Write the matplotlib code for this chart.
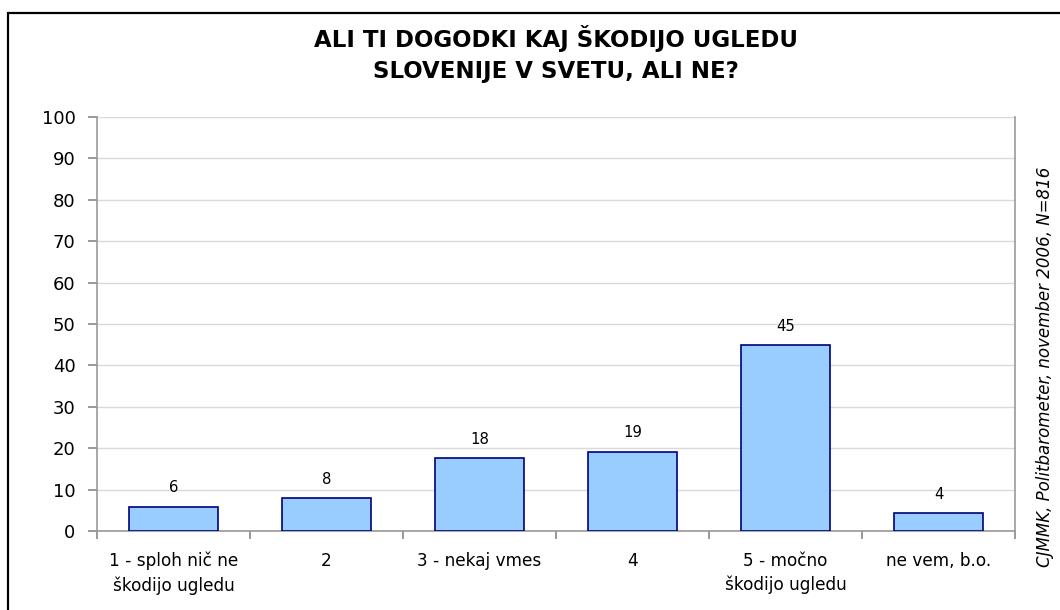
import matplotlib
matplotlib.use("Agg")
import matplotlib.pyplot as plt
from matplotlib.patches import Rectangle

plt.rcParams['font.family'] = ['DejaVu Sans']

categories = ["1 - sploh nič ne\nškodijo ugledu", "2", "3 - nekaj vmes", "4",
              "5 - močno\nškodijo ugledu", "ne vem, b.o."]
values = [5.9, 7.9, 17.6, 19.2, 45.0, 4.3]
y_ticks = list(range(0, 101, 10))
title = "ALI TI DOGODKI KAJ ŠKODIJO UGLEDU\nSLOVENIJE V SVETU, ALI NE?"
source = "CJMMK, Politbarometer, november 2006, N=816"

W, H = 1060, 610
fig = plt.figure(figsize=(W / 100, H / 100), dpi=100)
fig.patch.set_facecolor("white")

# outer chart frame (runs off the right and bottom edges)
fig.add_artist(Rectangle((8 / W, -0.05), 1.2, (H - 13) / H + 0.05,
                         transform=fig.transFigure, fill=False,
                         edgecolor="black", linewidth=1.6))

ax = fig.add_axes([97 / W, (H - 531) / H, (1015 - 97) / W, (531 - 117) / H])
x = list(range(len(categories)))
ax.bar(x, values, width=0.58, color="#99CCFF", edgecolor="#000080",
       linewidth=1.2, zorder=3)

for xi, v in zip(x, values):
    ax.annotate(f"{v:.0f}", (xi, v), xytext=(0, 8), textcoords="offset points",
                ha="center", va="bottom", fontsize=10.7, color="black")

ax.set_xlim(-0.5, len(categories) - 0.5)
ax.set_ylim(0, 100)
ax.set_yticks(y_ticks)
ax.set_yticklabels([str(t) for t in y_ticks], fontsize=13)
ax.yaxis.grid(True, color="#d9d9d9", linewidth=1.0, zorder=0)
ax.set_axisbelow(True)

ax.set_xticks(x)
ax.set_xticklabels(categories, fontsize=12.2, linespacing=1.4)
ax.tick_params(axis="x", length=0, pad=15)
ax.set_xticks([i + 0.5 for i in range(-1, len(categories))], minor=True)
ax.tick_params(axis="x", which="minor", length=6, color="#888888", width=1.2)
ax.tick_params(axis="y", length=6.5, color="#888888", width=1.2, pad=9)

ax.spines["top"].set_visible(False)
for side in ["left", "bottom", "right"]:
    ax.spines[side].set_color("#999999")
    ax.spines[side].set_linewidth(1.2)

fig.text(556 / W, 1 - 54 / H, title, ha="center", va="center",
         fontsize=16.5, fontweight="bold", linespacing=1.4)

fig.text(1045 / W, 1 - 367 / H, source, rotation=90, ha="center", va="center",
         fontsize=12, fontstyle="italic")

fig.savefig("out.png", dpi=100, facecolor="white")
